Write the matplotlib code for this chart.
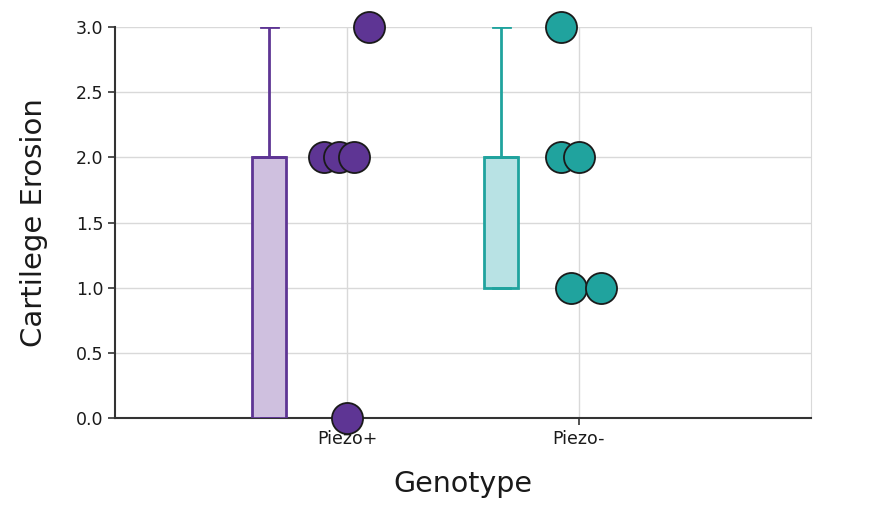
import matplotlib
matplotlib.use("Agg")
import matplotlib.pyplot as plt

categories = ["Piezo+", "Piezo-"]
values_piezo_pos = [0, 2, 2, 2, 3]
values_piezo_neg = [3, 2, 2, 1, 1]
jitter_piezo_pos = [0.0, -0.099, -0.034, 0.030, 0.095]
jitter_piezo_neg = [-0.078, -0.078, 0.0, -0.034, 0.095]
box_q1 = [0, 1]
box_med = [2, 2]
box_q3 = [2, 2]
box_lo = [0, 1]
box_hi = [3, 3]
yticks = [0.0, 0.5, 1.0, 1.5, 2.0, 2.5, 3.0]

line_colors = ["#5E3594", "#20A39E"]
fill_colors = ["#CFC0DF", "#B8E2E4"]
dot_colors = ["#5E3594", "#20A39E"]

fig = plt.figure(figsize=(8.7, 5.31), dpi=100)
ax = fig.add_axes([115/870, 1-418/531, 696/870, 391/531])

all_vals = [values_piezo_pos, values_piezo_neg]
all_jit = [jitter_piezo_pos, jitter_piezo_neg]
box_offset = -0.336
box_width = 0.147

for i in range(len(categories)):
    stats = [dict(q1=box_q1[i], med=box_med[i], q3=box_q3[i],
                  whislo=box_lo[i], whishi=box_hi[i], fliers=[])]
    c = line_colors[i]
    ax.bxp(stats, positions=[i + box_offset], widths=box_width,
           patch_artist=True, showfliers=False,
           boxprops=dict(facecolor=fill_colors[i], edgecolor=c, linewidth=2),
           medianprops=dict(color=c, linewidth=2),
           whiskerprops=dict(color=c, linewidth=2),
           capprops=dict(color=c, linewidth=2),
           capwidths=box_width * 0.5, zorder=3)
    xs = [i + j for j in all_jit[i]]
    ax.scatter(xs, all_vals[i], s=500, color=dot_colors[i], edgecolor="#1a1a1a",
               linewidth=1.3, zorder=5, clip_on=False)

ax.set_xlim(-1, 2)
ax.set_ylim(0, 3)
ax.set_xticks(range(len(categories)))
ax.set_xticklabels(categories, fontsize=12.5)
ax.set_yticks(yticks)
ax.set_yticklabels([f"{v:.1f}" for v in yticks], fontsize=12.5)
ax.grid(True, color="#d9d9d9", linewidth=1, zorder=0)
ax.set_axisbelow(True)
ax.spines["top"].set_visible(False)
ax.spines["right"].set_color("#d9d9d9")
ax.spines["left"].set_color("#333333")
ax.spines["bottom"].set_color("#333333")
ax.spines["left"].set_linewidth(1.5)
ax.spines["bottom"].set_linewidth(1.5)
ax.tick_params(axis="both", colors="#333333", labelcolor="#1a1a1a", length=5, width=1.2)
ax.set_xlabel("Genotype", fontsize=20.5, labelpad=16, color="#1a1a1a")
ax.set_ylabel("Cartilege Erosion", fontsize=21, labelpad=20, color="#1a1a1a")

fig.savefig("out.png", dpi=100)
